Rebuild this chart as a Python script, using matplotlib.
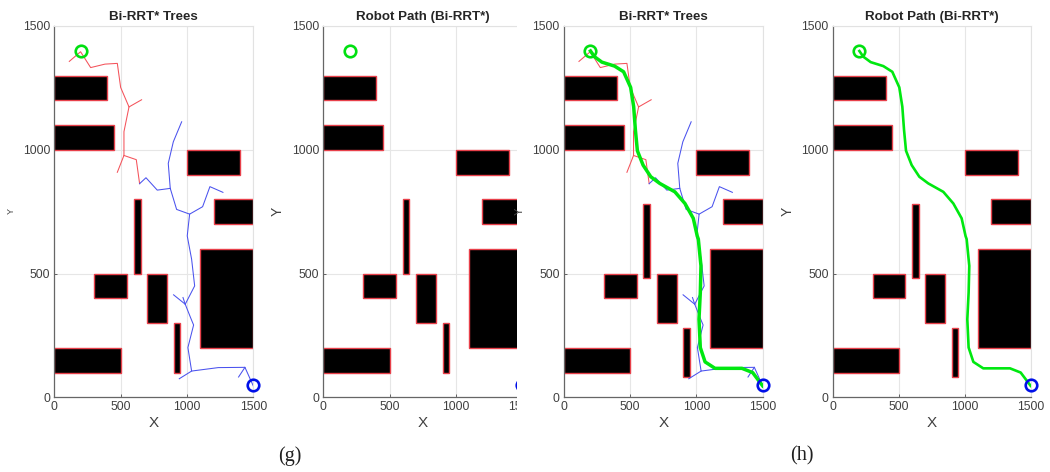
"""Bi-RRT* trees and robot paths, panels (g) and (h)."""

import matplotlib

matplotlib.use("Agg")

import matplotlib.pyplot as plt
from matplotlib.patches import Rectangle
from matplotlib.transforms import Bbox, TransformedBbox

W, H = 1050, 472
TEXT = "#404040"

plt.rcParams["font.family"] = ["Liberation Sans", "DejaVu Sans"]

TICKS = [0, 500, 1000, 1500]
START = (200, 1400)
GOAL = (1500, 50)

# obstacles: x, y, width, height
OBSTACLES_G = [
    (0, 1200, 400, 100),
    (0, 1000, 450, 100),
    (1000, 900, 400, 100),
    (1200, 700, 300, 100),
    (600, 500, 50, 300),
    (300, 400, 250, 100),
    (700, 300, 150, 200),
    (900, 100, 50, 200),
    (1100, 200, 400, 400),
    (0, 100, 500, 100),
]
OBSTACLES_H = [
    (0, 1200, 400, 100),
    (0, 1000, 450, 100),
    (1000, 900, 400, 100),
    (1200, 700, 300, 100),
    (600, 480, 50, 300),
    (300, 400, 250, 100),
    (700, 300, 150, 200),
    (900, 80, 50, 200),
    (1100, 200, 400, 400),
    (0, 100, 500, 100),
]

# tree branches as (x list, y list)
RED_TREE = [
    ([113, 198, 274, 382, 475, 500, 563, 525, 525, 475],
     [1357, 1396, 1332, 1346, 1349, 1252, 1173, 1073, 977, 909]),
    ([563, 658], [1173, 1202]),
    ([525, 618, 643], [977, 960, 863]),
]
BLUE_TREE = [
    ([960, 897, 859, 874, 922, 1020, 1002, 1035, 1058, 987, 1027, 1050, 1007, 1035, 1236, 1437, 1500],
     [1113, 1032, 945, 844, 759, 740, 652, 558, 450, 376, 322, 292, 201, 106, 120, 121, 46]),
    ([874, 776, 691, 643], [844, 837, 887, 863]),
    ([1020, 1118, 1173, 1271], [740, 770, 851, 828]),
    ([899, 987], [414, 376]),
    ([970, 987], [403, 376]),
    ([1035, 942], [106, 75]),
    ([1437, 1389], [121, 82]),
]

PATH_X = [200, 230, 286, 382, 450, 503, 526, 539, 554, 597, 655, 723, 837, 913, 976, 1006,
          1014, 1034, 1029, 1019, 1029, 1065, 1140, 1343, 1424, 1500]
PATH_Y = [1399, 1376, 1354, 1338, 1315, 1252, 1174, 1080, 996, 938, 891, 864, 830, 783, 723, 651,
          639, 531, 423, 315, 201, 143, 117, 117, 100, 46]


def make_axes(fig, left, right, title):
    """Axes placed by pixel edges, MATLAB look."""
    top, bottom = 26, 397.3
    ax = fig.add_axes([left / W, 1 - bottom / H, (right - left) / W, (bottom - top) / H])
    ax.set_xlim(0, 1500)
    ax.set_ylim(0, 1500)
    ax.set_xticks(TICKS)
    ax.set_yticks(TICKS)
    ax.tick_params(direction="in", length=2, width=0.7, color="#606060", labelcolor=TEXT,
                   labelsize=8.8, pad=3)
    ax.grid(color="#e6e6e6", linewidth=0.8)
    ax.set_axisbelow(True)
    for side in ["left", "bottom"]:
        ax.spines[side].set_color("#666666")
        ax.spines[side].set_linewidth(0.9)
    for side in ["top", "right"]:
        ax.spines[side].set_color("#e2e2e2")
        ax.spines[side].set_linewidth(0.8)
    ax.set_title(title, fontsize=9.6, fontweight="bold", color="#262626", pad=4)
    ax.set_xlabel("X", fontsize=11, color=TEXT, labelpad=2)
    return ax


def draw_obstacles(ax, obstacles):
    for x, y, w, h in obstacles:
        ax.add_patch(Rectangle((x, y), w, h, facecolor="black", edgecolor="#e8404a",
                               linewidth=1.0, zorder=2))


def draw_tree(ax, branches, color):
    for xs, ys in branches:
        ax.plot(xs, ys, color=color, linewidth=0.75, zorder=3)


def draw_ends(ax):
    style = dict(marker="o", markersize=8.3, markerfacecolor="none", markeredgewidth=1.9,
                 clip_on=False, zorder=6)
    ax.plot(*START, markeredgecolor="#00e010", **style)
    ax.plot(*GOAL, markeredgecolor="#0010e8", **style)


fig = plt.figure(figsize=(W / 100, H / 100), dpi=100, facecolor="white")

ax1 = make_axes(fig, 54.3, 253.3, "Bi-RRT* Trees")
ax2 = make_axes(fig, 323.3, 522, "Robot Path (Bi-RRT*)")
ax3 = make_axes(fig, 564, 762.7, "Bi-RRT* Trees")
ax4 = make_axes(fig, 833, 1030.7, "Robot Path (Bi-RRT*)")

draw_obstacles(ax1, OBSTACLES_G)
draw_tree(ax1, RED_TREE, "#f4525a")
draw_tree(ax1, BLUE_TREE, "#4a52ee")
draw_ends(ax1)

draw_obstacles(ax2, OBSTACLES_G)
draw_ends(ax2)

draw_obstacles(ax3, OBSTACLES_H)
draw_tree(ax3, RED_TREE, "#f4525a")
draw_tree(ax3, BLUE_TREE, "#4a52ee")
ax3.plot(PATH_X, PATH_Y, color="#00e810", linewidth=2.5, zorder=5)
draw_ends(ax3)

draw_obstacles(ax4, OBSTACLES_H)
ax4.plot(PATH_X, PATH_Y, color="#00e810", linewidth=1.9, zorder=5)
draw_ends(ax4)

# the second panel is cut off on its right side in the source figure
fig.add_artist(Rectangle((517.3 / W, 0), 13 / W, 1, transform=fig.transFigure, facecolor="white",
                         edgecolor="none", zorder=5))
keep = TransformedBbox(Bbox([[0, 0], [517.3 / W, 1]]), fig.transFigure)
for label in ax2.get_xticklabels():
    label.set_clip_box(keep)
    label.set_clip_on(True)

# y labels are uneven in the source
fig.text(11.5 / W, 1 - 211 / H, "Y", rotation=90, fontsize=6.5, color=TEXT, ha="center", va="center")
fig.text(278 / W, 1 - 211 / H, "Y", rotation=90, fontsize=10, color=TEXT, ha="center", va="center")
fig.text(520 / W, 1 - 211 / H, "Y", rotation=90, fontsize=8, color=TEXT, ha="center", va="center", zorder=6)
fig.text(788 / W, 1 - 211 / H, "Y", rotation=90, fontsize=10, color=TEXT, ha="center", va="center")

fig.text(290 / W, 1 - 456 / H, "(g)", family="Liberation Serif", fontsize=14.5, color="#202020",
         ha="center", va="center")
fig.text(802 / W, 1 - 456 / H, "(h)", family="Liberation Serif", fontsize=14.5, color="#202020",
         ha="center", va="center")

fig.savefig("out.png", dpi=100)
plt.close(fig)
